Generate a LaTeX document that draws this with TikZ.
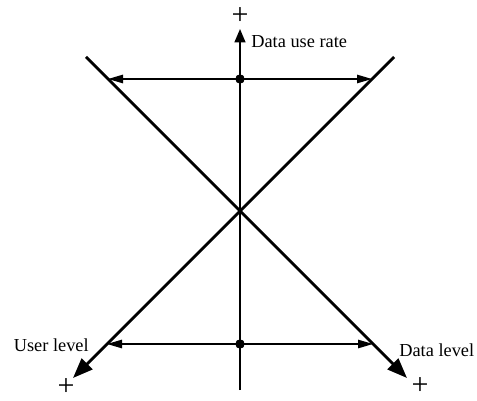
\documentclass[tikz,border=0pt]{standalone}
\usepackage{fontspec}
\setmainfont{Liberation Serif}
\usetikzlibrary{arrows.meta, positioning}

\begin{document}
\begin{tikzpicture}[
    x=0.6pt, y=-0.6pt,
    diag/.style={line width=1.7pt, -{Triangle[length=12pt, width=9pt]}},
    hspan/.style={line width=1pt, {Triangle[length=9pt, width=5pt]}-{Triangle[length=9pt, width=5pt]}},
    vaxis/.style={line width=1pt, -{Triangle[length=8pt, width=6.5pt]}},
    dot/.style={circle, fill, inner sep=0pt, minimum size=5.5pt},
    plus/.style={font=\fontsize{18}{18}\selectfont, inner sep=0pt},
    lbl/.style={font=\fontsize{11}{13}\selectfont, inner sep=0pt}
]
\useasboundingbox (0,0) rectangle (477,401);

% axis ends
\coordinate (o) at (240,211);
\coordinate (ul) at (86,57);
\coordinate (ur) at (394,57);
\coordinate (dl) at (73,378);
\coordinate (dr) at (407,378);
\coordinate (vtop) at (240,29);
\coordinate (vbot) at (240,390);

% rate marks
\node[dot] (hi) at (240,79) {};
\node[dot] (lo) at (240,344) {};
\coordinate (hil) at (108,79);
\coordinate (hir) at (372,79);
\coordinate (lol) at (107,344);
\coordinate (lor) at (373,344);

\draw[vaxis] (vbot) -- (vtop);
\draw[diag] (ur) -- (o) -- (dl);
\draw[diag] (ul) -- (o) -- (dr);
\draw[hspan] (hil) -- (hir);
\draw[hspan] (lol) -- (lor);
\node[dot] at (hi) {};
\node[dot] at (lo) {};

% labels
\node[plus] (ptop) at (240,16) {+};
\node[plus] (pleft) at (66,387) {+};
\node[plus] (pright) at (420,386) {+};
\node[lbl, anchor=west] (rate) at (251,42) {Data use rate};
\node[lbl, anchor=east] (user) at (89,345) {User level};
\node[lbl, anchor=west] (data) at (399,350) {Data level};
\end{tikzpicture}
\end{document}
